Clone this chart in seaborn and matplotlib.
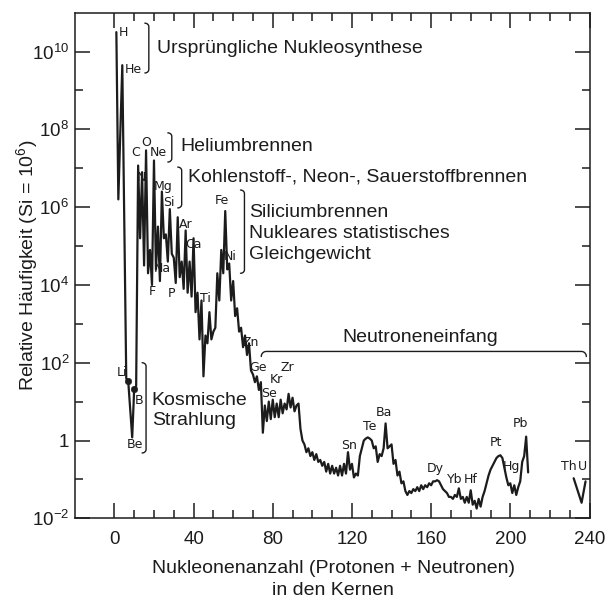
import numpy as np
import pandas as pd
import matplotlib
matplotlib.use("Agg")
import matplotlib.pyplot as plt
from matplotlib.ticker import FixedLocator, FixedFormatter, NullFormatter
import seaborn as sns

# ---------------------------------------------------------------------------
# Solar-system abundances vs. mass number (Si = 1e6), given as log10 values
# ---------------------------------------------------------------------------
light_A = [1, 2, 4, 6, 7, 9, 10, 11]
light_log = [10.5, 6.2, 9.65, 1.6, 1.52, 0.08, 1.32, 1.4]

mid_A = list(range(12, 56))
mid_log = [7.07, 5.2, 6.9, 4.5, 7.46, 4.3, 4.9, 4.0, 7.2, 4.4,
           5.5, 4.1, 6.4, 5.2, 5.3, 4.6, 5.95, 4.8, 4.7, 4.05,
           5.74, 4.2, 4.6, 3.9, 5.4, 3.8, 4.6, 3.7, 5.2, 3.3,
           3.8, 2.6, 3.6, 1.65, 2.7, 2.5, 3.3, 2.6, 2.8, 2.9,
           4.3, 3.6, 4.9, 4.3]

iron_A = list(range(56, 101))
iron_log = [5.9, 4.4, 4.55, 3.6, 4.1, 3.2, 3.4, 2.8, 2.9, 2.4,
            2.7, 2.2, 2.5, 1.8, 1.7, 1.5, 1.65, 1.3, 1.5, 0.2,
            0.9, 0.5, 1.0, 0.55, 1.05, 0.6, 0.95, 0.6, 1.05, 0.7,
            0.95, 0.8, 1.2, 0.85, 1.1, 0.75, 0.9, 0.95, 0.3, 0.0,
            -0.1, -0.3, -0.2, -0.4, -0.3]

heavy1_A = list(range(101, 151))
heavy1_log = [-0.5, -0.35, -0.55, -0.5, -0.65, -0.55, -0.8, -0.6, -0.85, -0.65,
              -0.85, -0.7, -0.9, -0.65, -0.9, -0.6, -0.85, -0.3, -0.75, -0.6,
              -0.95, -0.85, -0.9, -0.4, -0.2, 0.0, 0.05, 0.08, 0.05, 0.0,
              -0.2, -0.15, -0.55, -0.35, -0.4, -0.2, 0.44, -0.2, -0.15, -0.1,
              -0.6, -0.5, -0.9, -0.8, -1.1, -1.05, -1.3, -1.4, -1.3, -1.35]

heavy2_A = list(range(151, 210))
heavy2_log = [-1.25, -1.3, -1.2, -1.3, -1.15, -1.25, -1.15, -1.2, -1.1, -1.15,
              -1.05, -1.05, -1.02, -1.05, -1.15, -1.25, -1.3, -1.35, -1.45, -1.45,
              -1.5, -1.4, -1.45, -1.23, -1.5, -1.45, -1.6, -1.45, -1.6, -1.28,
              -1.65, -1.55, -1.75, -1.5, -1.7, -1.45, -1.3, -1.1, -0.9, -0.75,
              -0.65, -0.55, -0.45, -0.4, -0.38, -0.45, -0.7, -0.95, -1.15, -1.1,
              -1.35, -1.15, -1.4, -1.2, -1.05, -0.55, -0.4, 0.1, -0.82]

actinide_A = [232, 236, 238]
actinide_log = [-0.97, -1.6, -1.05]

# Li and B are marked with dots
dot_A = [7, 10]
dot_log = [1.52, 1.32]

# element symbols: (symbol, A, log10 position)
element_labels = [
    ("H", 4.8, 10.5), ("He", 9.7, 9.55), ("C", 10.9, 7.40), ("O", 16.2, 7.67),
    ("Ne", 22.0, 7.40), ("N", 13.8, 6.75), ("Mg", 24.4, 6.54), ("Si", 27.6, 6.13),
    ("Ar", 36.1, 5.55), ("Ca", 39.8, 5.03), ("Na", 24.3, 4.41), ("F", 19.1, 3.82),
    ("P", 28.7, 3.79), ("Ti", 45.8, 3.64), ("Fe", 54.4, 6.16), ("Ni", 58.4, 4.72),
    ("Zn", 68.9, 2.53), ("Ge", 72.3, 1.89), ("Se", 77.9, 1.22), ("Kr", 82.0, 1.56),
    ("Zr", 87.5, 1.89), ("Sn", 118.7, -0.12), ("Te", 129.1, 0.35),
    ("Ba", 136.2, 0.73), ("Dy", 162.1, -0.73), ("Yb", 171.7, -1.01),
    ("Hf", 179.8, -1.01), ("Pt", 192.8, -0.06), ("Hg", 200.5, -0.68),
    ("Pb", 205.2, 0.45), ("Th", 229.6, -0.68), ("U", 236.4, -0.68),
    ("Li", 3.8, 1.76), ("B", 12.5, 1.04), ("Be", 10.6, -0.11),
]

x_ticks = [0, 40, 80, 120, 160, 200, 240]
y_exponents = [-2, 0, 2, 4, 6, 8, 10]
y_ticklabels = [r"$\mathregular{10^{-2}}$", "1", r"$\mathregular{10^{2}}$",
                r"$\mathregular{10^{4}}$", r"$\mathregular{10^{6}}$",
                r"$\mathregular{10^{8}}$", r"$\mathregular{10^{10}}$"]

# ---------------------------------------------------------------------------
segments = [
    (light_A + mid_A + iron_A + heavy1_A + heavy2_A,
     light_log + mid_log + iron_log + heavy1_log + heavy2_log, 0),
    (actinide_A, actinide_log, 1),
]
frames = [pd.DataFrame({"A": a, "abund": 10.0 ** np.asarray(l), "seg": s})
          for a, l, s in segments]
df = pd.concat(frames, ignore_index=True)
dots = pd.DataFrame({"A": dot_A, "abund": 10.0 ** np.asarray(dot_log)})

sns.set_style("ticks")
plt.rcParams["font.family"] = ["Liberation Sans", "DejaVu Sans"]
plt.rcParams["mathtext.fontset"] = "custom"
plt.rcParams["mathtext.rm"] = "Liberation Sans"
plt.rcParams["mathtext.it"] = "Liberation Sans:italic"
plt.rcParams["mathtext.bf"] = "Liberation Sans:bold"

ink = "#1c1c1c"
fig = plt.figure(figsize=(6.10, 6.01), dpi=100)
ax = fig.add_axes([0.1226, 0.1376, 0.9664 - 0.1226, 0.9789 - 0.1376])

sns.lineplot(data=df, x="A", y="abund", units="seg", estimator=None,
             sort=False, color=ink, lw=1.6, ax=ax, legend=False)
sns.scatterplot(data=dots, x="A", y="abund", color=ink, s=22,
                edgecolor=ink, ax=ax, legend=False, zorder=3)

ax.set_yscale("log")
ax.set_xlim(-20, 240)
ax.set_ylim(1e-2, 1e11)

ax.xaxis.set_major_locator(FixedLocator(x_ticks))
ax.xaxis.set_minor_locator(FixedLocator(list(range(0, 241, 10))))
ax.yaxis.set_major_locator(FixedLocator([10.0 ** e for e in y_exponents]))
ax.yaxis.set_major_formatter(FixedFormatter(y_ticklabels))
ax.yaxis.set_minor_locator(FixedLocator([10.0 ** e for e in range(-1, 11, 2)]))
ax.yaxis.set_minor_formatter(NullFormatter())

ax.tick_params(which="both", direction="in", top=True, right=True,
               colors=ink, width=1.1, labelsize=13.5)
ax.tick_params(which="major", length=10.5)
ax.tick_params(which="minor", length=5.5)
ax.tick_params(axis="x", which="major", pad=9)
ax.tick_params(axis="y", which="major", pad=4)
for s in ax.spines.values():
    s.set_linewidth(1.1)
    s.set_color(ink)

ax.set_xlabel("Nukleonenanzahl (Protonen + Neutronen)\nin den Kernen",
              fontsize=14, color=ink, linespacing=1.35)
ax.xaxis.set_label_coords(0.5017, -0.083)
ax.set_ylabel(r"Relative Häufigkeit (Si = $\mathregular{10^6}$)",
              fontsize=14, color=ink)
ax.yaxis.label.set_va("center")
ax.yaxis.set_label_coords(-0.093, 0.5)

for sym, a, lg in element_labels:
    ax.text(a, 10.0 ** lg, sym, fontsize=9, family="DejaVu Sans",
            ha="center", va="center", color=ink)


def vbracket(a, top, bot, hook=2.0, dy=0.09):
    t = np.linspace(0, np.pi / 2, 10)
    xs_top = a - hook + hook * np.sin(t)
    ys_top = top - dy * (1 - np.cos(t))
    xs = np.concatenate([xs_top, xs_top[::-1]])
    ys = np.concatenate([ys_top, (bot + (top - ys_top))[::-1]])
    ax.plot(xs, 10.0 ** ys, color=ink, lw=1.0, solid_capstyle="round")


def hbracket(a0, a1, level, hook=2.5, dy=0.13):
    t = np.linspace(0, np.pi / 2, 10)
    xl = a0 + hook * (1 - np.cos(t))
    yl = level - dy + dy * np.sin(t)
    xr = a1 - hook * (1 - np.cos(t[::-1]))
    yr = yl[::-1]
    xs = np.concatenate([xl, xr])
    ys = np.concatenate([yl, yr])
    ax.plot(xs, 10.0 ** ys, color=ink, lw=1.0)


vbracket(17.4, 10.73, 9.45)
vbracket(29.0, 7.91, 7.16)
vbracket(34.0, 7.03, 5.98)
vbracket(65.7, 6.44, 4.30)
vbracket(16.0, 2.0, -0.32)
hbracket(74.2, 238.4, 2.29)

txt = dict(fontsize=14, color=ink, ha="left", va="center")
ax.text(21.5, 10.0 ** 10.09, "Ursprüngliche Nukleosynthese", **txt)
ax.text(33.1, 10.0 ** 7.55, "Heliumbrennen", **txt)
ax.text(37.0, 10.0 ** 6.78, "Kohlenstoff-, Neon-, Sauerstoffbrennen", **txt)
ax.text(68.2, 10.0 ** 5.87, "Siliciumbrennen", **txt)
ax.text(68.2, 10.0 ** 5.33, "Nukleares statistisches", **txt)
ax.text(68.2, 10.0 ** 4.77, "Gleichgewicht", **txt)
ax.text(18.9, 10.0 ** 1.04, "Kosmische", **txt)
ax.text(18.9, 10.0 ** 0.52, "Strahlung", **txt)
ax.text(154.7, 10.0 ** 2.66, "Neutroneneinfang", fontsize=14, color=ink,
        ha="center", va="center")

fig.savefig("out.png", dpi=100)
